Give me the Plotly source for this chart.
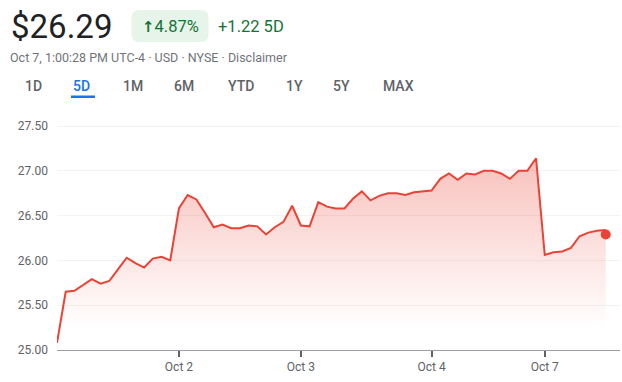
import plotly.graph_objects as go

# ---- data ----
prices = [25.08, 25.65, 25.66, 25.73, 25.79, 25.74, 25.77, 25.90, 26.03, 25.97,
          25.92, 26.02, 26.04, 26.00, 26.58, 26.73, 26.68, 26.53, 26.37, 26.40,
          26.36, 26.36, 26.39, 26.38, 26.29, 26.37, 26.43, 26.61, 26.39, 26.38,
          26.65, 26.60, 26.58, 26.58, 26.69, 26.77, 26.67, 26.72, 26.75, 26.75,
          26.73, 26.76, 26.77, 26.78, 26.91, 26.97, 26.90, 26.97, 26.96, 27.00,
          27.00, 26.97, 26.91, 27.00, 27.00, 27.14, 26.06, 26.09, 26.10, 26.14,
          26.27, 26.31, 26.33, 26.34]
steps = list(range(len(prices)))
last_price = 26.29
day_tick_steps = [14, 28, 43, 56]
day_tick_labels = ["Oct 2", "Oct 3", "Oct 4", "Oct 7"]
y_ticks = [25.0, 25.5, 26.0, 26.5, 27.0, 27.5]
y_tick_labels = ["25.00", "25.50", "26.00", "26.50", "27.00", "27.50"]
tabs = ["1D", "5D", "1M", "6M", "YTD", "1Y", "5Y", "MAX"]
active_tab = "5D"

# ---- layout geometry (pixels) ----
W, H = 622, 382
L, R, T, B = 57, 2, 117, 32
PW, PH = W - L - R, H - T - B


def fx(x):
    return (x - L) / PW


def fy(y):
    return (H - B - y) / PH


RED = "rgb(234,67,53)"
GREEN = "#137333"
FONT = "Roboto"

fig = go.Figure()
fig.add_trace(go.Scatter(
    x=steps, y=prices, mode="lines",
    line=dict(color=RED, width=2),
    fill="tozeroy",
    fillgradient=dict(type="vertical",
                      colorscale=[[0, "rgba(234,67,53,0)"], [1, "rgba(234,67,53,0.34)"]],
                      start=25.25, stop=27.2),
    hoverinfo="skip", showlegend=False,
))
fig.add_trace(go.Scatter(
    x=[steps[-1]], y=[last_price], mode="markers",
    marker=dict(color=RED, size=10), cliponaxis=False,
    hoverinfo="skip", showlegend=False,
))

annotations = []
shapes = []

# header
annotations.append(dict(text="$26.29", x=fx(9), y=fy(26.5), xanchor="left", yanchor="middle",
                        font=dict(family=FONT, size=33, color="#202124")))
bx0, bx1, by0, by1, rr = 131.5, 208.5, 10, 42, 8
path = (f"M {fx(bx0+rr)},{fy(by0)} L {fx(bx1-rr)},{fy(by0)} "
        f"Q {fx(bx1)},{fy(by0)} {fx(bx1)},{fy(by0+rr)} L {fx(bx1)},{fy(by1-rr)} "
        f"Q {fx(bx1)},{fy(by1)} {fx(bx1-rr)},{fy(by1)} L {fx(bx0+rr)},{fy(by1)} "
        f"Q {fx(bx0)},{fy(by1)} {fx(bx0)},{fy(by1-rr)} L {fx(bx0)},{fy(by0+rr)} "
        f"Q {fx(bx0)},{fy(by0)} {fx(bx0+rr)},{fy(by0)} Z")
shapes.append(dict(type="path", path=path, xref="paper", yref="paper",
                   fillcolor="#e6f4ea", line=dict(width=0), layer="below"))
annotations.append(dict(text="<span style='font-family:DejaVu Sans;font-weight:bold;font-size:15px'>↑</span>4.87%",
                        x=fx(170.8), y=fy(26), xanchor="center", yanchor="middle",
                        font=dict(family=FONT, size=16.5, color=GREEN)))
annotations.append(dict(text="+1.22 5D", x=fx(216), y=fy(26), xanchor="left", yanchor="middle",
                        font=dict(family=FONT, size=16.5, color=GREEN)))
annotations.append(dict(text="Oct 7, 1:00:28 PM UTC-4 · USD · NYSE · Disclaimer",
                        x=fx(8), y=fy(57.5), xanchor="left", yanchor="middle",
                        font=dict(family=FONT, size=12.5, color="#70757a")))

tab_centers = [33.3, 81.7, 132.7, 184.3, 240.7, 294, 341.7, 398.3]
for name, cx in zip(tabs, tab_centers):
    annotations.append(dict(text=name, x=fx(cx), y=fy(86.5), xanchor="center", yanchor="middle",
                            font=dict(family=FONT, size=14, weight=500,
                                      color="#1a73e8" if name == active_tab else "#5f6368")))
shapes.append(dict(type="rect", xref="paper", yref="paper",
                   x0=fx(71), x1=fx(95), y0=fy(98), y1=fy(95.5),
                   fillcolor="#1a73e8", line=dict(width=0)))

for a in annotations:
    a.update(xref="paper", yref="paper", showarrow=False)

fig.update_layout(
    width=W, height=H,
    margin=dict(l=L, r=R, t=T, b=B, pad=0),
    paper_bgcolor="white", plot_bgcolor="white",
    annotations=annotations, shapes=shapes,
    xaxis=dict(range=[0, PW / 8.71], tickmode="array", tickvals=day_tick_steps,
               ticktext=day_tick_labels, showgrid=False, zeroline=False,
               showline=True, linecolor="#9aa0a6", linewidth=1,
               ticks="outside", ticklen=6, tickwidth=2, tickcolor="#5f6368",
               tickfont=dict(family=FONT, size=12, color="#5f6368")),
    yaxis=dict(range=[25.0, 25.0 + PH / 89.6], tickmode="array", tickvals=y_ticks,
               ticktext=y_tick_labels, showgrid=True, gridcolor="#f1f3f4", gridwidth=1,
               zeroline=False, showline=False, ticks="", ticklabelstandoff=8,
               tickfont=dict(family=FONT, size=12, color="#5f6368")),
    hovermode=False,
)

fig.write_html("out.html", config={"displayModeBar": False},
               post_script="document.body.style.margin='0';document.body.style.overflow='hidden';")
